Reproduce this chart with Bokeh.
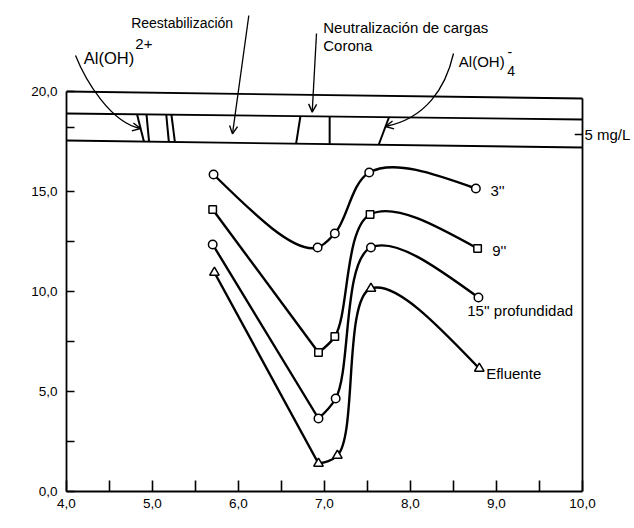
import numpy as np
from bokeh.plotting import figure
from bokeh.models import ColumnDataSource, FixedTicker, Label, Arrow, OpenHead, Range1d
from bokeh.embed import file_html
from bokeh.resources import INLINE

# ---------------- data ----------------
ph_3 = [5.71, 6.92, 7.12, 7.52, 8.76]
turb_3 = [15.85, 12.2, 12.9, 15.95, 15.15]
ph_9 = [5.70, 6.93, 7.12, 7.53, 8.78]
turb_9 = [14.1, 6.95, 7.75, 13.85, 12.15]
ph_15 = [5.70, 6.93, 7.13, 7.54, 8.79]
turb_15 = [12.35, 3.65, 4.65, 12.2, 9.7]
ph_ef = [5.72, 6.93, 7.15, 7.54, 8.80]
turb_ef = [10.95, 1.4, 1.8, 10.15, 6.15]

series_names = ["3''", "9''", "15'' profundidad", "Efluente"]

x_ticks = [4, 5, 6, 7, 8, 9, 10]
x_tick_labels = ["4,0", "5,0", "6,0", "7,0", "8,0", "9,0", "10,0"]
x_minor = [4.5, 5.5, 6.5, 7.5, 8.5, 9.5]
y_ticks = [0, 5, 10, 15, 20]
y_tick_labels = ["0,0", "5,0", "10,0", "15,0", "20,0"]
y_minor = [2.5, 7.5, 12.5, 18.2]

# dosage band (top diagram): three horizontal lines, left/right heights
band_left_y = [20.0, 18.9, 17.55]
band_right_y = [19.65, 18.6, 17.2]
# region dividers inside the band (pH at upper and lower line)
div_ph_top = [4.82, 4.93, 5.16, 5.22, 6.72, 7.06, 7.75]
div_ph_bot = [4.90, 4.96, 5.19, 5.26, 6.67, 7.06, 7.63]
dose_tick_y = 17.85

# ---------------- figure ----------------
FONT = "Liberation Sans"
W, H = 634, 528
LEFT, BOTTOM = 66, 37
X0, X1 = 4.0, 4.0 + (W - LEFT) / 86.0
Y0, Y1 = 0.0, (H - BOTTOM) / 20.0

p = figure(width=W, height=H, output_backend="svg", toolbar_location=None,
           x_range=Range1d(X0, X1), y_range=Range1d(Y0, Y1),
           min_border_left=LEFT, min_border_right=0, min_border_top=0, min_border_bottom=BOTTOM)
p.outline_line_color = None
p.grid.visible = False
p.background_fill_color = "white"

for ax in (p.xaxis[0], p.yaxis[0]):
    ax.axis_line_width = 1.8
    ax.axis_line_color = "black"
    ax.major_tick_line_width = 1.6
    ax.minor_tick_line_width = 1.6
    ax.major_tick_out = 0
    ax.minor_tick_out = 0
    ax.major_label_text_font = FONT
    ax.major_label_text_font_size = "13.5px"
    ax.major_label_text_color = "black"

xa = p.xaxis[0]
xa.ticker = FixedTicker(ticks=x_ticks, minor_ticks=x_minor)
xa.major_label_overrides = {t: l for t, l in zip(x_ticks, x_tick_labels)}
xa.bounds = (4, 10)
xa.major_tick_in = 11
xa.minor_tick_in = 11
xa.major_label_standoff = 7

ya = p.yaxis[0]
ya.ticker = FixedTicker(ticks=y_ticks, minor_ticks=y_minor)
ya.major_label_overrides = {t: l for t, l in zip(y_ticks, y_tick_labels)}
ya.bounds = (0, 20)
ya.major_tick_in = 8
ya.minor_tick_in = 8
ya.major_label_standoff = 9

# ---------------- smooth curves (Catmull-Rom -> Bezier) ----------------
SX, SY = 86.0, 20.0


def bezier_segments(xs, ys, alpha=0.5):
    P = [np.array([x * SX, y * SY]) for x, y in zip(xs, ys)]
    n = len(P)
    out = {k: [] for k in ("x0", "y0", "x1", "y1", "cx0", "cy0", "cx1", "cy1")}
    for i in range(n - 1):
        p1, p2 = P[i], P[i + 1]
        l12 = np.linalg.norm(p2 - p1)
        l12a, l12_2a = l12 ** alpha, l12 ** (2 * alpha)
        b1 = b2 = None
        if i > 0:
            p0 = P[i - 1]
            l01 = np.linalg.norm(p1 - p0)
            l01a, l01_2a = l01 ** alpha, l01 ** (2 * alpha)
            a = 2 * l01_2a + 3 * l01a * l12a + l12_2a
            nn = 3 * l01a * (l01a + l12a)
            b1 = (p1 * a - p0 * l12_2a + p2 * l01_2a) / nn
        if i < n - 2:
            p3 = P[i + 2]
            l23 = np.linalg.norm(p3 - p2)
            l23a, l23_2a = l23 ** alpha, l23 ** (2 * alpha)
            b = 2 * l23_2a + 3 * l23a * l12a + l12_2a
            m = 3 * l23a * (l23a + l12a)
            b2 = (p2 * b + p1 * l23_2a - p3 * l12_2a) / m
        if b1 is None and b2 is None:
            b1, b2 = p1 + (p2 - p1) / 3, p2 - (p2 - p1) / 3
        elif b1 is None:
            b1 = (p1 + b2) / 2
        elif b2 is None:
            b2 = (b1 + p2) / 2
        for key, pt in (("0", p1), ("1", p2)):
            out["x" + key].append(pt[0] / SX)
            out["y" + key].append(pt[1] / SY)
        out["cx0"].append(b1[0] / SX)
        out["cy0"].append(b1[1] / SY)
        out["cx1"].append(b2[0] / SX)
        out["cy1"].append(b2[1] / SY)
    return out


series = [
    (ph_3, turb_3, "circle", 8.5, True),
    (ph_9, turb_9, "square", 7.5, False),
    (ph_15, turb_15, "circle", 8.5, False),
    (ph_ef, turb_ef, "triangle", 9.5, False),
]
LW = 2.4
for xs, ys, mk, sz, smooth_start in series:
    if smooth_start:
        segs = bezier_segments(xs, ys, alpha=0.7)
    else:
        p.line(xs[:2], ys[:2], line_color="black", line_width=LW)
        segs = bezier_segments(xs[1:], ys[1:], alpha=0.6)
    p.bezier(x0="x0", y0="y0", x1="x1", y1="y1", cx0="cx0", cy0="cy0", cx1="cx1", cy1="cy1",
             source=ColumnDataSource(segs), line_color="black", line_width=LW)
    p.scatter(xs, ys, marker=mk, size=sz, fill_color="white", line_color="black", line_width=1.5)

# series labels
lab_pos = [(8.93, 15.05), (8.95, 12.05), (8.66, 9.03), (8.88, 5.9)]
for name, (lx, ly) in zip(series_names, lab_pos):
    p.add_layout(Label(x=lx, y=ly, text=name, text_font=FONT, text_font_size="15px",
                       text_baseline="middle", text_align="left", text_color="black"))

# ---------------- dosage band ----------------
p.segment(x0=[4] * 3, y0=band_left_y, x1=[10] * 3, y1=band_right_y, line_color="black", line_width=1.8)
p.segment(x0=[10], y0=[0], x1=[10], y1=[band_right_y[0]], line_color="black", line_width=1.8)


def band_y(k, x):
    return band_left_y[k] + (band_right_y[k] - band_left_y[k]) * (x - 4) / 6.0


p.segment(x0=div_ph_top, y0=[band_y(1, x) for x in div_ph_top],
          x1=div_ph_bot, y1=[band_y(2, x) for x in div_ph_bot], line_color="black", line_width=2)
p.segment(x0=[9.91], y0=[dose_tick_y], x1=[10], y1=[dose_tick_y], line_color="black", line_width=1.6)

# curved / straight pointer arrows of the top diagram
arrow_curves = {
    "x0": [4.105, 8.50], "y0": [21.8, 21.9],
    "cx0": [4.221, 8.407], "cy0": [20.55, 20.15],
    "cx1": [4.512, 8.174], "cy1": [18.45, 18.65],
    "x1": [4.86, 7.709], "y1": [18.15, 18.25],
}
p.bezier(source=ColumnDataSource(arrow_curves), x0="x0", y0="y0", x1="x1", y1="y1",
         cx0="cx0", cy0="cy0", cx1="cx1", cy1="cy1", line_color="black", line_width=1.3)
for i in range(2):
    p.add_layout(Arrow(end=OpenHead(size=8, line_width=1.4, line_color="black"),
                       x_start=arrow_curves["cx1"][i], y_start=arrow_curves["cy1"][i],
                       x_end=arrow_curves["x1"][i], y_end=arrow_curves["y1"][i], line_alpha=0))
straight_arrows = [((6.12, 23.8), (5.93, 17.88)), ((6.907, 22.9), (6.857, 18.97))]
for (sx, sy), (ex, ey) in straight_arrows:
    p.add_layout(Arrow(end=OpenHead(size=8, line_width=1.4, line_color="black"),
                       x_start=sx, y_start=sy, x_end=ex, y_end=ey, line_width=1.3, line_color="black"))

# ---------------- texts ----------------
texts = [
    ("Reestabilización", 4.752, 23.415, "14px", "alphabetic", "left", 0),
    ("Neutralización de cargas", 6.985, 23.215, "15px", "alphabetic", "left", 0),
    ("Corona", 6.985, 22.3, "15px", "alphabetic", "left", 0),
    ("Al(OH)", 4.201, 21.685, "16.5px", "alphabetic", "left", 0),
    ("2+", 4.80, 22.4, "15px", "alphabetic", "left", 0),
    ("Al(OH)", 8.562, 21.515, "15px", "alphabetic", "left", 0),
    ("-", 9.128, 21.965, "14px", "middle", "left", 0),
    ("4", 9.124, 21.015, "14px", "alphabetic", "left", 0),
    ("5 mg/L", 10.023, 17.85, "15px", "middle", "left", 0),
    ("Turbiedad", 3.436, 9.025, "14px", "middle", "center", np.pi / 2),
    ("pH", 6.8, -0.95, "14px", "top", "center", 0),
]
for t, tx, ty, fs, bl, al, ang in texts:
    p.add_layout(Label(x=tx, y=ty, text=t, text_font=FONT, text_font_size=fs,
                       text_baseline=bl, text_align=al, angle=ang, text_color="black"))

open("out.html", "w").write(file_html(p, INLINE))
